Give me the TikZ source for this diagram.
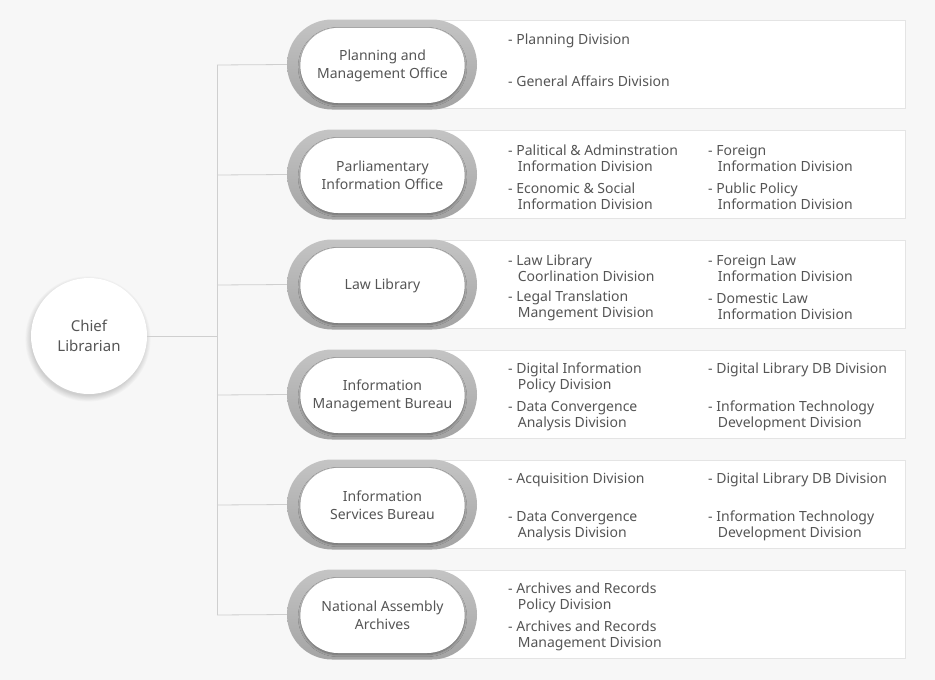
\documentclass[tikz,border=0pt]{standalone}
\usepackage{fontspec}
\setmainfont{Noto Sans}
\usetikzlibrary{shapes.misc,shadows.blur}
\definecolor{bg}{HTML}{F7F7F7}
\definecolor{txt}{HTML}{555555}
\definecolor{lineg}{HTML}{CFCFCF}
\definecolor{boxline}{HTML}{E4E4E4}
\definecolor{ringtop}{HTML}{C4C4C4}
\definecolor{ringbot}{HTML}{A4A4A4}
\tikzset{
  conn/.style={draw=lineg, line width=0.8pt},
  panel/.style={draw=boxline, fill=white, line width=0.6pt},
  ring/.style={rounded rectangle, minimum width=190pt, minimum height=90pt, top color=ringtop, bottom color=ringbot, draw=none, inner sep=0pt},
  pill/.style={rounded rectangle, minimum width=171pt, minimum height=75pt, fill=white, draw=none, align=center, text=txt, font=\fontsize{14}{18}\selectfont, blur shadow={shadow blur steps=8, shadow xshift=0pt, shadow yshift=-1.5pt, shadow opacity=35}},
  chief/.style={circle, minimum size=116pt, fill=white, align=center, text=txt, font=\fontsize{15}{20}\selectfont},
  softshadow/.style={fill=black, fill opacity=0.018, draw=none},
  item/.style={anchor=west, align=left, text=txt, font=\fontsize{14}{16}\selectfont, inner sep=0pt}
}
\newcommand{\ind}{\phantom{- }\hspace{1.5pt}}
\begin{document}
\begin{tikzpicture}[x=1pt,y=-1pt]
\fill[bg] (0,0) rectangle (935,680);
\useasboundingbox (0,0) rectangle (935,680);
% panels
\foreach \i in {0,...,5}{
  \filldraw[panel] (420,{20+110*\i}) rectangle (905,{108+110*\i});
}
% chief soft shadow
\foreach \k in {0,...,7}{
  \fill[softshadow] (88,339) circle ({57+\k*0.8});
}
\node[chief] (chief) at (89,336) {Chief\\Librarian};
\coordinate (jc) at (217,336);
\coordinate (top) at (217,65);
\coordinate (bot) at (217,615);
\foreach \i in {1,...,6}{
  \coordinate (j\i) at (217,{65+110*(\i-1)});
}
% pills
\foreach \i/\t in {1/{Planning and\\Management Office},2/{Parliamentary\\Information Office},3/{Law Library},4/{Information\\Management Bureau},5/{Information\\Services Bureau},6/{National Assembly\\Archives}}{
  \node[ring] (r\i) at (382,{64.5+110*(\i-1)}) {};
  \node[pill] (p\i) at (382.5,{65.5+110*(\i-1)}) {\t};
}
% connectors
\draw[conn] (chief.east) -- (jc);
\draw[conn] (top) -- (bot);
\foreach \i in {1,...,6}{
  \draw[conn] (j\i) -- (r\i.west);
}
% row 1
\node[item] (a1) at (508,41) {- Planning Division};
\node[item] (a2) at (508,81) {- General Affairs Division};
% row 2
\node[item] (b1) at (508,158) {- Palitical \& Adminstration\\\ind Information Division};
\node[item] (b2) at (508,196) {- Economic \& Social\\\ind Information Division};
\node[item] (b3) at (708,158) {- Foreign\\\ind Information Division};
\node[item] (b4) at (708,196) {- Public Policy\\\ind Information Division};
% row 3
\node[item] (c1) at (508,268) {- Law Library\\\ind Coorlination Division};
\node[item] (c2) at (508,306) {- Legal Translation\\\ind Mangement Division};
\node[item] (c3) at (708,268) {- Foreign Law\\\ind Information Division};
\node[item] (c4) at (708,306) {- Domestic Law\\\ind Information Division};
% row 4
\node[item] (d1) at (508,378) {- Digital Information\\\ind Policy Division};
\node[item] (d2) at (508,416) {- Data Convergence\\\ind Analysis Division};
\node[item] (d3) at (708,370) {- Digital Library DB Division};
\node[item] (d4) at (708,416) {- Information Technology\\\ind Development Division};
% row 5
\node[item] (e1) at (508,480) {- Acquisition Division};
\node[item] (e2) at (508,526) {- Data Convergence\\\ind Analysis Division};
\node[item] (e3) at (708,480) {- Digital Library DB Division};
\node[item] (e4) at (708,526) {- Information Technology\\\ind Development Division};
% row 6
\node[item] (f1) at (508,598) {- Archives and Records\\\ind Policy Division};
\node[item] (f2) at (508,636) {- Archives and Records\\\ind Management Division};
\end{tikzpicture}
\end{document}
